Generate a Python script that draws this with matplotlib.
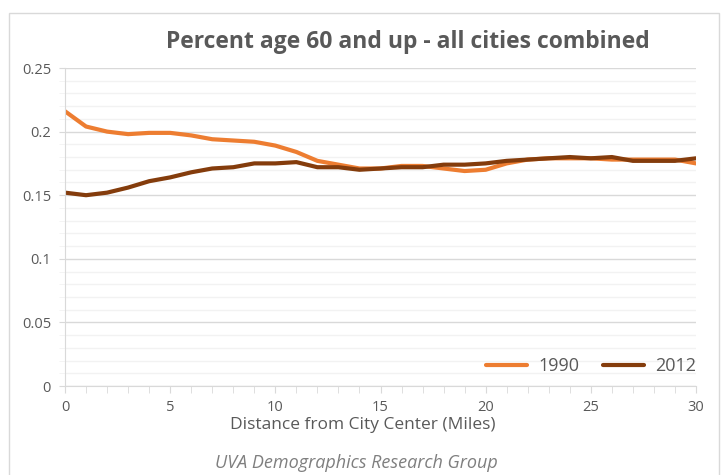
import matplotlib
matplotlib.use("Agg")
import matplotlib.pyplot as plt
from matplotlib.ticker import MultipleLocator
from matplotlib.patches import Rectangle

distance = list(range(0, 31))
pct_1990 = [0.216, 0.204, 0.200, 0.198, 0.199, 0.199, 0.197, 0.194, 0.193, 0.192,
            0.189, 0.184, 0.177, 0.174, 0.171, 0.171, 0.173, 0.173, 0.171, 0.169,
            0.170, 0.175, 0.178, 0.179, 0.179, 0.179, 0.178, 0.178, 0.178, 0.178,
            0.175]
pct_2012 = [0.152, 0.150, 0.152, 0.156, 0.161, 0.164, 0.168, 0.171, 0.172, 0.175,
            0.175, 0.176, 0.172, 0.172, 0.170, 0.171, 0.172, 0.172, 0.174, 0.174,
            0.175, 0.177, 0.178, 0.179, 0.180, 0.179, 0.180, 0.177, 0.177, 0.177,
            0.179]
yticks = [0, 0.05, 0.1, 0.15, 0.2, 0.25]
ytick_labels = ["0", "0.05", "0.1", "0.15", "0.2", "0.25"]
xticks = [0, 5, 10, 15, 20, 25, 30]

plt.rcParams['font.family'] = ['Open Sans', 'DejaVu Sans']
txt = "#595959"

fig = plt.figure(figsize=(7.21, 4.75), dpi=100)
fig.patch.set_facecolor("white")
fig.patches.append(Rectangle((9/721, -0.01), 710/721, 1 - 13/475 + 0.01,
                             transform=fig.transFigure, fill=False,
                             edgecolor="#D9D9D9", linewidth=1.0))

ax = fig.add_axes([65/721, 1 - 386/475, 631/721, 318/475])
ax.plot(distance, pct_1990, color="#ED7D31", lw=3.0, label="1990", solid_capstyle="round")
ax.plot(distance, pct_2012, color="#843C0C", lw=3.0, label="2012", solid_capstyle="round")

ax.set_xlim(0, 30)
ax.set_ylim(0, 0.25)
ax.set_yticks(yticks)
ax.set_yticklabels(ytick_labels)
ax.yaxis.set_minor_locator(MultipleLocator(0.01))
ax.set_xticks(xticks)
ax.xaxis.set_minor_locator(MultipleLocator(1))
ax.grid(which="major", axis="y", color="#D9D9D9", lw=1.0)
ax.grid(which="minor", axis="y", color="#F2F2F2", lw=1.0)
ax.set_axisbelow(True)
for s in ["top", "right"]:
    ax.spines[s].set_visible(False)
ax.spines["left"].set_color("#D9D9D9")
ax.spines["bottom"].set_color("#D9D9D9")
ax.tick_params(axis="x", which="both", direction="out", length=5, color="#D9D9D9",
               labelsize=10.5, labelcolor=txt, pad=5)
ax.tick_params(axis="y", which="major", length=4, color="#D9D9D9",
               labelsize=10.5, labelcolor=txt, pad=6)
ax.tick_params(axis="y", which="minor", length=4, color="#F2F2F2")
ax.set_xlabel("Distance from City Center (Miles)", fontsize=12.5, color=txt)
ax.xaxis.set_label_coords(0.472, -0.098)

leg = ax.legend(loc="center right", ncol=2, frameon=False, fontsize=13,
                labelcolor=txt, handlelength=2.3, columnspacing=1.3,
                handletextpad=0.6, borderaxespad=0, borderpad=0,
                bbox_to_anchor=(1.0, 0.063))

fig.text(408/721, 1 - 42/475, "Percent age 60 and up - all cities combined",
         ha="center", va="center", fontsize=16.5, fontweight="bold", color=txt)
fig.text(356/721, 1 - 463/475, "UVA Demographics Research Group",
         ha="center", va="center", fontsize=13, style="italic", color="#7F7F7F")

fig.savefig("out.png", dpi=100)
